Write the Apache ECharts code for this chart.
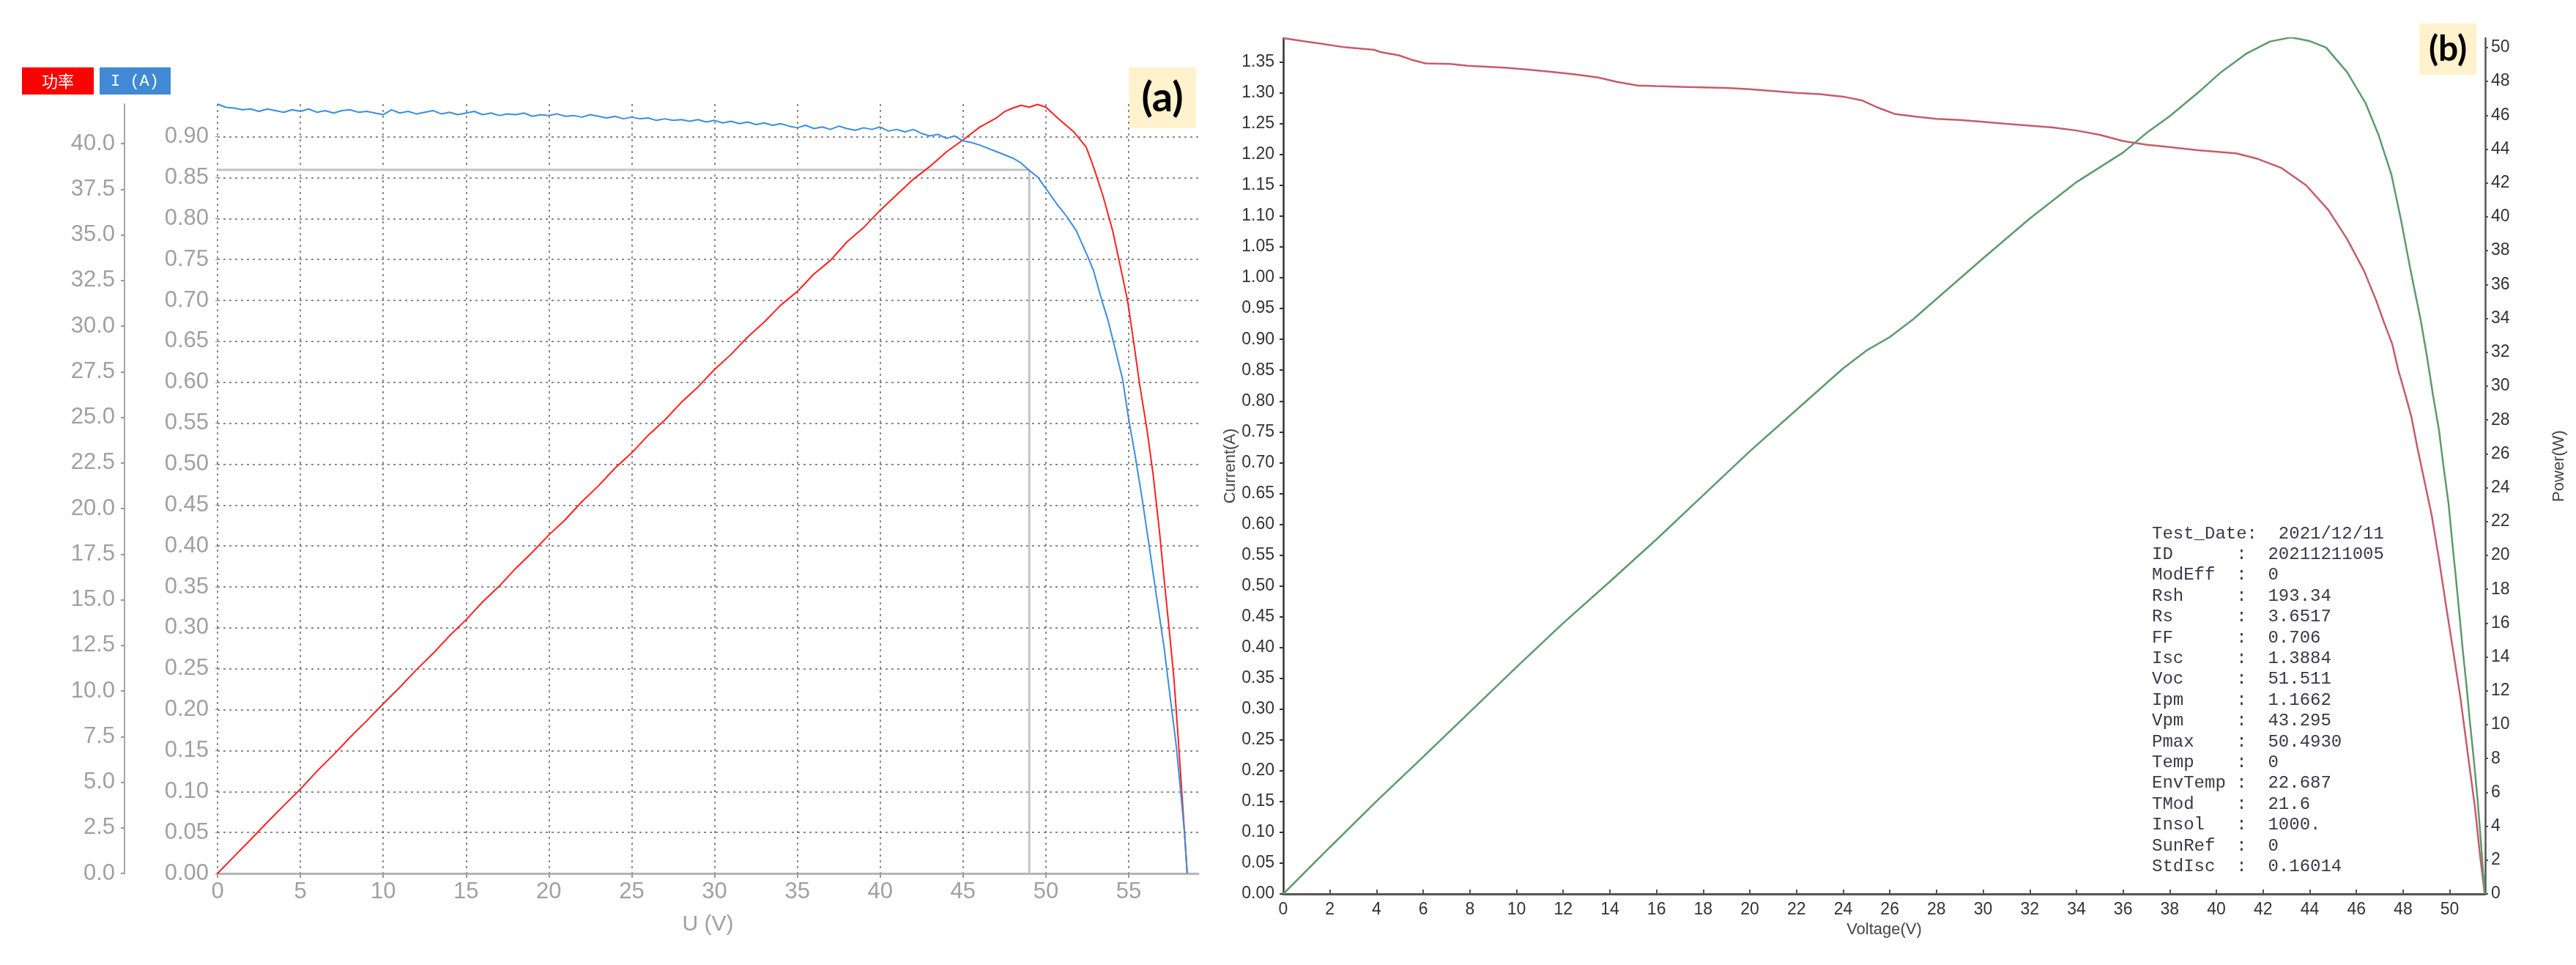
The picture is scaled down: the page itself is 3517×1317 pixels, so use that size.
<!DOCTYPE html>
<html>
<head>
<meta charset="utf-8">
<script src="https://cdn.jsdelivr.net/npm/echarts@6/dist/echarts.min.js"></script>
<style>
html,body{margin:0;padding:0;background:#fff;}
#chart{width:3517px;height:1317px;}
</style>
</head>
<body>
<div id="chart"></div>
<script>
// ---------- Panel (a) data ----------
const aVoltsI = [0,0.5,1,1.5,2,2.5,3,3.5,4,4.5,5,5.5,6,6.5,7,7.5,8,8.5,9,9.5,
  10,10.5,11,11.5,12,12.5,13,13.5,14,14.5,15,15.5,16,16.5,17,17.5,18,18.5,19,19.5,
  20,20.5,21,21.5,22,22.5,23,23.5,24,24.5,25,25.5,26,26.5,27,27.5,28,28.5,29,29.5,
  30,30.5,31,31.5,32,32.5,33,33.5,34,34.5,35,35.5,36,36.5,37,37.5,38,38.5,39,39.5,
  40,40.5,41,41.5,42,42.5,43,43.5,44,44.5,45,45.5,46,46.5,47,47.5,48,48.5,49,49.5,
  50.66,51.25,51.84,52.5,52.87,53.38,53.75,54.19,54.63,55.0,55.37,55.81,56.25,56.69,57.13,57.5,57.87,58.16,58.38,58.53];
const aCurrent = [0.940,0.936,0.935,0.933,0.934,0.931,0.934,0.932,0.930,0.933,
  0.931,0.934,0.930,0.932,0.929,0.932,0.933,0.930,0.931,0.929,
  0.927,0.933,0.929,0.931,0.928,0.930,0.932,0.928,0.930,0.927,
  0.929,0.931,0.927,0.929,0.926,0.928,0.927,0.929,0.925,0.927,
  0.926,0.928,0.925,0.926,0.924,0.927,0.925,0.923,0.925,0.922,
  0.924,0.922,0.923,0.920,0.922,0.920,0.921,0.919,0.921,0.918,
  0.920,0.917,0.919,0.916,0.918,0.915,0.917,0.914,0.916,0.913,
  0.911,0.914,0.910,0.912,0.909,0.913,0.910,0.908,0.911,0.909,
  0.912,0.907,0.909,0.906,0.909,0.904,0.901,0.903,0.898,0.901,
  0.895,0.893,0.890,0.886,0.882,0.878,0.874,0.868,0.859,0.851,
  0.818,0.803,0.785,0.755,0.737,0.700,0.676,0.640,0.604,0.555,0.513,0.458,0.398,0.337,0.277,0.216,0.156,0.095,0.047,0];
const aVoltsP = [0,1,2,3,4,5,6,7,8,9,10,11,12,13,14,15,16,17,18,19,20,21,22,23,24,25,26,27,28,29,
  30,31,32,33,34,35,36,37,38,39,40,41,42,43,44,45,46,47,47.5,48,48.5,49,49.5,50,
  50.66,51.18,51.69,52.43,52.87,53.46,54.04,54.49,54.93,55.29,55.66,56.1,56.47,56.84,57.13,57.43,57.72,57.94,58.16,58.38,58.53];
const aPower = [0,0.93,1.86,2.80,3.72,4.62,5.60,6.50,7.46,8.36,
  9.30,10.20,11.16,12.05,13.02,13.90,14.88,15.74,16.72,17.60,
  18.55,19.40,20.38,21.25,22.22,23.05,24.02,24.85,25.82,26.66,
  27.62,28.45,29.40,30.22,31.15,31.90,32.85,33.60,34.62,35.40,
  36.35,37.20,38.05,38.75,39.55,40.20,40.90,41.40,41.75,41.95,42.10,42.00,42.15,42.00,
  41.45,41.04,40.64,39.82,38.74,37.10,35.20,33.30,31.40,29.20,26.80,24.35,21.90,18.90,16.20,13.50,10.80,8.06,5.08,2.09,0];
const aMppVolts = [0, 49.0, 49.0];
const aMppCurrent = [0.8597, 0.8597, 0];
const aLegend = ['功率', 'I (A)'];

// ---------- Panel (b) data ----------
const bVoltsI = [0,0.87,1.6,2.66,3.9,4.2,4.96,5.49,6.1,7.16,7.9,9.46,10.5,11.55,12.5,13.5,14.3,15.2,16,17,18,19,20,21,22,23,24,24.8,25.5,26.2,27,28,29,30,31,32,33,34,35,36,37,38,39.2,
  40.84,41.77,42.8,43.85,44.8,45.6,46.33,46.85,47.18,47.54,47.79,48.1,48.36,48.6,48.9,49.23,49.54,49.85,50.15,50.46,50.77,51.08,51.28,51.5];
const bCurrent = [1.389,1.384,1.380,1.374,1.370,1.366,1.361,1.354,1.348,1.347,1.344,1.341,1.338,1.334,1.330,1.325,1.318,1.312,1.311,1.310,1.309,1.308,1.306,1.303,1.300,1.298,1.294,1.288,1.276,1.266,1.262,1.258,1.256,1.253,1.250,1.247,1.244,1.239,1.232,1.222,1.216,1.212,1.207,
  1.202,1.193,1.178,1.150,1.110,1.063,1.011,0.963,0.928,0.892,0.851,0.810,0.774,0.727,0.673,0.614,0.543,0.466,0.394,0.318,0.229,0.141,0.069,0];
const bVoltsP = [0,2,4,6,8,10,12,14,16,18,20,22,24,25,26,27,28,30,32,34,36,37,38,39.18,40.2,41.27,42.3,43.2,43.96,44.7,45.6,46.4,46.96,47.5,47.9,48.3,48.77,49.03,49.28,49.54,49.74,49.95,50.1,50.26,50.41,50.56,50.72,50.87,51.03,51.18,51.33,51.5];
const bPower = [0,2.76,5.48,8.1,10.75,13.4,16.0,18.45,20.95,23.55,26.15,28.6,31.05,32.1,32.9,33.95,35.15,37.55,39.9,42.05,43.8,44.95,45.95,47.3,48.55,49.63,50.36,50.6,50.4,50.0,48.55,46.7,44.8,42.5,39.9,37.0,33.8,31.7,29.5,27.4,25.2,23.06,20.9,18.75,16.6,14.4,12.3,10.1,7.97,5.8,3.2,0];
const bInfoKeys = ['Test_Date:','ID','ModEff','Rsh','Rs','FF','Isc','Voc','Ipm','Vpm','Pmax','Temp','EnvTemp','TMod','Insol','SunRef','StdIsc'];
const bInfoVals = ['2021/12/11','20211211005','0','193.34','3.6517','0.706','1.3884','51.511','1.1662','43.295','50.4930','0','22.687','21.6','1000.','0','0.16014'];
const panelLabels = ['(a)', '(b)'];

// ---------- build ----------
const zip = (xs, ys) => xs.map((x, i) => [x, ys[i]]);
const infoText = bInfoKeys.map((k, i) => {
  if (i === 0) return k + '  ' + bInfoVals[i];
  return (k + '        ').slice(0, 8) + ':  ' + bInfoVals[i];
}).join('\n');

const fa = 'Liberation Sans';
const fb = '"Liberation Sans Narrow","Arial Narrow","Liberation Sans",sans-serif';
const grayA = '#a0a0a0';

const chart = echarts.init(document.getElementById('chart'));
chart.setOption({
  animation: false,
  backgroundColor: '#fff',
  grid: [
    {left: 297, top: 142, width: 1339, height: 1050},
    {left: 1752, top: 52, width: 1641, height: 1168}
  ],
  xAxis: [
    {gridIndex: 0, type: 'value', min: 0, max: 59.2, interval: 5,
     name: 'U (V)', nameLocation: 'middle', nameGap: 55,
     nameTextStyle: {color: grayA, fontSize: 30, fontFamily: fa},
     axisLine: {show: true, lineStyle: {color: '#b4b4b4', width: 3}},
     axisTick: {show: true, length: 6, lineStyle: {color: '#999', width: 2}},
     axisLabel: {color: grayA, fontSize: 31, fontFamily: fa, margin: 10, showMaxLabel: false},
     splitLine: {show: true, showMinLine: true, showMaxLine: false, lineStyle: {color: '#666', type: [3, 5], width: 1.5}}},
    {gridIndex: 1, type: 'value', min: 0, max: 51.52, interval: 2,
     name: 'Voltage(V)', nameLocation: 'middle', nameGap: 36,
     nameTextStyle: {color: '#444', fontSize: 22, fontFamily: fb},
     axisLine: {show: true, lineStyle: {color: '#555', width: 3}},
     axisTick: {show: true, inside: true, length: 6, lineStyle: {color: '#555', width: 2}},
     axisLabel: {color: '#333', fontSize: 23, fontFamily: fb, margin: 10, showMaxLabel: false},
     splitLine: {show: false}}
  ],
  yAxis: [
    {gridIndex: 0, type: 'value', min: 0, max: 0.94, interval: 0.05, position: 'left',
     axisLine: {show: false},
     axisTick: {show: true, length: 3, lineStyle: {color: '#888'}},
     axisLabel: {color: grayA, fontSize: 31, fontFamily: fa, margin: 12, showMaxLabel: false,
       formatter: v => v.toFixed(2)},
     splitLine: {show: true, showMaxLine: false, showMinLine: false, lineStyle: {color: '#666', type: [3, 5], width: 1.5}}},
    {gridIndex: 0, type: 'value', min: 0, max: 42.17, interval: 2.5, position: 'left', offset: 127,
     axisLine: {show: true, lineStyle: {color: '#a8a8a8', width: 2}},
     axisTick: {show: true, length: 5, lineStyle: {color: '#999', width: 2}},
     axisLabel: {color: grayA, fontSize: 31, fontFamily: fa, margin: 13, showMaxLabel: false,
       formatter: v => v.toFixed(1)},
     splitLine: {show: false}},
    {gridIndex: 1, type: 'value', min: 0, max: 1.389, interval: 0.05, position: 'left',
     name: 'Current(A)', nameLocation: 'middle', nameGap: 58, nameRotate: 90,
     nameTextStyle: {color: '#444', fontSize: 22, fontFamily: fb},
     axisLine: {show: true, lineStyle: {color: '#333', width: 2.5}},
     axisTick: {show: true, length: 5, lineStyle: {color: '#333', width: 2}},
     axisLabel: {color: '#333', fontSize: 23, fontFamily: fb, margin: 12, showMaxLabel: false,
       formatter: v => v.toFixed(2)},
     splitLine: {show: false}},
    {gridIndex: 1, type: 'value', min: 0, max: 50.56, interval: 2, position: 'right',
     name: 'Power(W)', nameLocation: 'middle', nameGap: 90, nameRotate: 90,
     nameTextStyle: {color: '#444', fontSize: 22, fontFamily: fb},
     axisLine: {show: true, lineStyle: {color: '#555', width: 2.5}},
     axisTick: {show: true, length: 4, lineStyle: {color: '#555', width: 2}},
     axisLabel: {color: '#333', fontSize: 23, fontFamily: fb, margin: 8, showMaxLabel: false},
     splitLine: {show: false}}
  ],
  series: [
    {type: 'line', name: 'MPP', xAxisIndex: 0, yAxisIndex: 0, data: zip(aMppVolts, aMppCurrent),
     showSymbol: false, lineStyle: {color: '#c4c4c4', width: 3}, z: 1},
    {type: 'line', name: aLegend[0], xAxisIndex: 0, yAxisIndex: 1, data: zip(aVoltsP, aPower),
     showSymbol: false, lineStyle: {color: '#ff2020', width: 2}, z: 3},
    {type: 'line', name: aLegend[1], xAxisIndex: 0, yAxisIndex: 0, data: zip(aVoltsI, aCurrent),
     showSymbol: false, lineStyle: {color: '#3a8ede', width: 2}, z: 4},
    {type: 'line', name: 'Current', xAxisIndex: 1, yAxisIndex: 2, data: zip(bVoltsI, bCurrent),
     showSymbol: false, lineStyle: {color: '#c65c6a', width: 2.5}, z: 3},
    {type: 'line', name: 'Power', xAxisIndex: 1, yAxisIndex: 3, data: zip(bVoltsP, bPower),
     showSymbol: false, lineStyle: {color: '#5e9a6c', width: 2.5}, z: 3}
  ],
  graphic: [
    {type: 'rect', shape: {x: 30, y: 92, width: 98, height: 37}, style: {fill: '#ff0000'}},
    {type: 'text', x: 79, y: 111, style: {text: aLegend[0], fill: '#fff', fontSize: 22,
      fontFamily: '"Noto Sans CJK SC"', align: 'center', verticalAlign: 'middle'}},
    {type: 'rect', shape: {x: 136, y: 92, width: 97, height: 37}, style: {fill: '#4189d4'}},
    {type: 'text', x: 184, y: 111, style: {text: aLegend[1], fill: '#fff', fontSize: 22,
      fontFamily: '"Liberation Mono"', align: 'center', verticalAlign: 'middle'}},
    {type: 'rect', shape: {x: 1541, y: 92, width: 92, height: 83}, style: {fill: '#fff2cc'}},
    {type: 'text', x: 1587, y: 134, style: {text: panelLabels[0], fill: '#000', fontSize: 56,
      fontWeight: 'bold', fontFamily: 'Lato', align: 'center', verticalAlign: 'middle'}},
    {type: 'rect', shape: {x: 3303, y: 32, width: 78, height: 70}, style: {fill: '#fff2cc'}},
    {type: 'text', x: 3342, y: 68, style: {text: panelLabels[1], fill: '#000', fontSize: 48,
      fontWeight: 'bold', fontFamily: 'Lato', align: 'center', verticalAlign: 'middle'}},
    {type: 'text', x: 2938, y: 714, style: {text: infoText, fill: '#383848', fontSize: 24,
      fontFamily: '"Liberation Mono"', lineHeight: 28.4}}
  ]
});
</script>
</body>
</html>
